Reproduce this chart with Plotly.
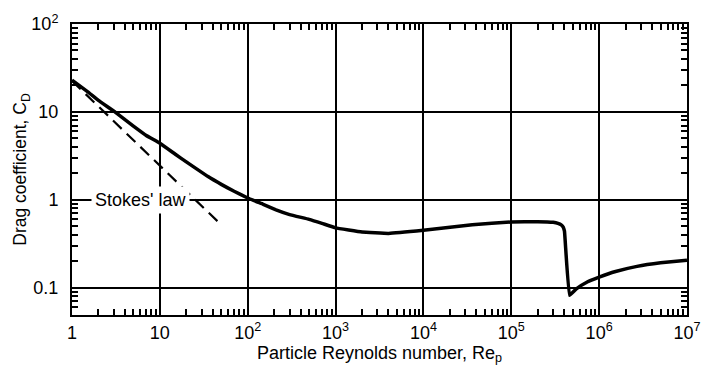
import plotly.graph_objects as go

# Drag curve (solid)
re_curve = [1, 1.5, 2, 3, 5, 7, 10, 15, 20, 35, 50, 70, 100, 150, 210, 300, 500, 700,
            1000, 2000, 4000, 1e4, 3.6e4, 1e5, 2e5, 3.0e5, 3.4e5, 3.7e5, 3.9e5, 4.03e5, 4.6e5,
            5.5e5, 7.4e5, 1e6, 1.5e6, 2.7e6, 5e6, 1e7]
cd_curve = [23, 17, 13.5, 10.2, 6.9, 5.4, 4.4, 3.3, 2.7, 1.85, 1.5, 1.25, 1.05, 0.89, 0.77, 0.68, 0.60, 0.54,
            0.48, 0.43, 0.415, 0.45, 0.52, 0.56, 0.565, 0.555, 0.54, 0.52, 0.49, 0.44, 0.082,
            0.097, 0.117, 0.132, 0.152, 0.175, 0.192, 0.206]

# Stokes' law (dashed)
re_stokes = [1, 48]
cd_stokes = [22.5, 0.54]

x_tickvals = [1, 10, 100, 1e3, 1e4, 1e5, 1e6, 1e7]
x_ticktext = ["1", "10", "10<sup>2</sup>", "10<sup>3</sup>", "10<sup>4</sup>",
              "10<sup>5</sup>", "10<sup>6</sup>", "10<sup>7</sup>"]
y_tickvals = [0.1, 1, 10, 100]
y_ticktext = ["0.1", "1", "10", "10<sup>2</sup>"]

FONT = "Liberation Sans, Arial, sans-serif"

fig = go.Figure()
fig.add_trace(go.Scatter(x=re_stokes, y=cd_stokes, mode="lines",
                         line=dict(color="black", width=2.2, dash="12px,7px"),
                         showlegend=False, hoverinfo="skip"))
fig.add_trace(go.Scatter(x=re_curve, y=cd_curve, mode="lines",
                         line=dict(color="black", width=3.5, shape="spline", smoothing=0.25),
                         showlegend=False, hoverinfo="skip"))

axis_common = dict(
    type="log", showline=True, linecolor="black", linewidth=2, mirror="allticks",
    showgrid=True, gridcolor="black", gridwidth=1.5,
    ticks="inside", ticklen=0, tickcolor="black",
    tickfont=dict(family=FONT, size=18, color="black"),
    zeroline=False,
    minor=dict(ticks="inside", ticklen=6, tickcolor="black", tickwidth=1.5,
               dtick="D1", showgrid=False),
)

fig.update_xaxes(**axis_common, range=[0, 7], tickvals=x_tickvals, ticktext=x_ticktext,
                 title=dict(text="Particle Reynolds number, Re<sub>p</sub>",
                            font=dict(family=FONT, size=18, color="black"), standoff=4))
fig.update_yaxes(**axis_common, range=[-1.31, 2], tickvals=y_tickvals, ticktext=y_ticktext,
                 ticklabelstandoff=8,
                 title=dict(text="Drag coefficient, C<sub>D</sub>",
                            font=dict(family=FONT, size=17.5, color="black"), standoff=0))

fig.add_annotation(x=0.215, y=0, xref="x", yref="y", text="Stokes' law",
                   showarrow=False, xanchor="left", yanchor="middle",
                   bgcolor="white", borderpad=3,
                   font=dict(family=FONT, size=18, color="black"))

fig.update_layout(width=713, height=372, margin=dict(l=72, r=15, t=14, b=57),
                  plot_bgcolor="white", paper_bgcolor="white")

fig.write_html("out.html")
